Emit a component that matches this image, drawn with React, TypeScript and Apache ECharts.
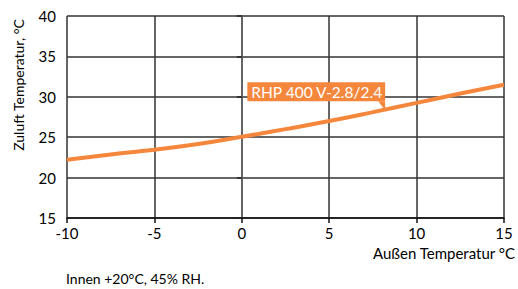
import React, { useEffect, useRef } from "react";
import * as echarts from "echarts";

const outsideTemp = [-10, -7.5, -5, -2.5, 0, 2.5, 5, 7.5, 10, 12.5, 15];
const supplyTemp = [22.2, 22.85, 23.45, 24.15, 25.05, 26.0, 27.0, 28.1, 29.25, 30.4, 31.5];
const seriesName = "RHP 400 V-2.8/2.4";
const labelPoint = [8.2, 28.35];
const footnote = "Innen +20°C, 45% RH.";
const yName = "Zuluft Temperatur, °C";
const xName = "Außen Temperatur °C";

export default function App() {
  const ref = useRef<HTMLDivElement>(null);
  useEffect(() => {
    const chart = echarts.init(ref.current!, null, { renderer: "svg" });
    const font = "Lato";
    chart.setOption({
      animation: false,
      textStyle: { fontFamily: font },
      grid: { left: 67, right: 12, top: 16, bottom: 71 },
      xAxis: {
        type: "value",
        min: -10,
        max: 15,
        interval: 5,
        name: xName,
        nameLocation: "end",
        nameGap: 0,
        nameTextStyle: {
          fontFamily: font,
          fontSize: 15,
          color: "#000",
          align: "right",
          verticalAlign: "top",
          padding: [27, -11, 0, 0],
        },
        axisLine: { show: true, lineStyle: { color: "#111", width: 1.5 } },
        axisTick: { show: true, length: 5, lineStyle: { color: "#111", width: 1.5 } },
        axisLabel: { color: "#000", fontSize: 15, fontFamily: font, margin: 7 },
        splitLine: { show: true, lineStyle: { color: "#333", width: 1.5 } },
      },
      yAxis: {
        type: "value",
        min: 15,
        max: 40,
        interval: 5,
        axisLine: { show: true, lineStyle: { color: "#666", width: 1.5 } },
        axisTick: { show: true, length: 5, lineStyle: { color: "#222", width: 1.5 } },
        axisLabel: { color: "#000", fontSize: 15, fontFamily: font, margin: 11 },
        splitLine: { show: true, lineStyle: { color: "#333", width: 1.5 } },
      },
      graphic: [
        {
          type: "text",
          left: 66,
          top: 271,
          style: { text: footnote, fontFamily: font, fontSize: 14, fill: "#000" },
        },
        {
          type: "text",
          x: 18,
          y: 85,
          rotation: Math.PI / 2,
          style: {
            text: yName,
            fontFamily: font,
            fontSize: 14,
            fill: "#000",
            align: "center",
            verticalAlign: "middle",
          },
        },
      ],
      series: [
        {
          type: "line",
          name: seriesName,
          data: outsideTemp.map((x, i) => [x, supplyTemp[i]]),
          smooth: true,
          showSymbol: false,
          lineStyle: { color: "#F5873D", width: 4 },
          markPoint: {
            silent: true,
            data: [
              {
                coord: labelPoint,
                symbol: "path://M0,0 L7,0 L7,9 Z",
                symbolSize: [7, 9],
                symbolOffset: [-3.5, -4.5],
                itemStyle: { color: "#F5873D" },
                label: {
                  show: true,
                  formatter: seriesName,
                  position: [7, 0],
                  align: "right",
                  verticalAlign: "bottom",
                  color: "#fff",
                  fontFamily: font,
                  fontSize: 15.5,
                  backgroundColor: "#F5873D",
                  padding: [2, 3, 1, 3],
                },
              },
            ],
          },
        },
      ],
    });
    return () => chart.dispose();
  }, []);
  return (
    <div
      ref={ref}
      style={{ position: "fixed", left: 0, top: 0, width: 518, height: 289, background: "#fff" }}
    />
  );
}
